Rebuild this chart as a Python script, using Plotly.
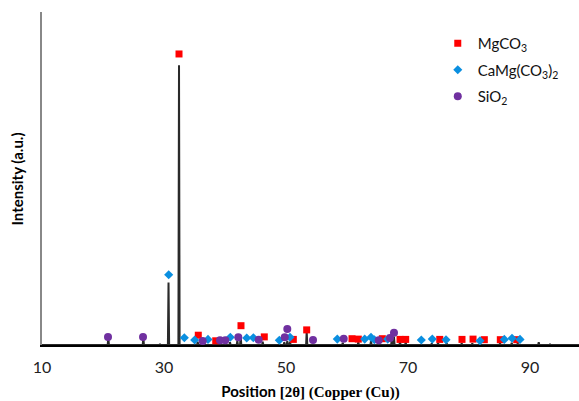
import plotly.graph_objects as go

# XRD pattern peaks (2θ position, relative intensity)
peak_pos = [20.87, 26.61, 29.34, 30.74, 32.46, 35.52, 38.36, 40.82, 42.02, 42.57,
            46.18, 49.72, 50.21, 50.66, 53.39, 59.30, 61.85, 63.93, 67.33, 67.70,
            68.69, 69.62, 73.89, 74.92, 76.34, 78.80, 80.54, 85.08, 87.00, 87.98,
            91.43, 93.28]
peak_int = [2.8, 2.8, 0.4, 22.3, 100, 1.2, 0.6, 1.0, 1.5, 3.5,
            1.2, 1.0, 1.5, 1.2, 4.8, 0.8, 1.0, 1.4, 2.0, 3.0,
            1.2, 1.0, 0.6, 0.8, 0.6, 0.6, 0.6, 0.7, 0.8, 0.6,
            1.0, 0.4]

# Phase identification markers
mgco3_x = [32.46, 35.62, 38.48, 42.62, 46.44, 51.20, 53.39, 60.82, 61.85, 65.79,
           68.69, 69.62, 75.20, 78.85, 80.66, 82.51, 85.13, 87.82]
mgco3_y = [104, 3.5, 1.5, 6.9, 2.9, 2.0, 5.4, 2.25, 2.1, 2.25,
           2.0, 2.0, 2.0, 2.0, 2.1, 1.9, 1.9, 1.9]

dol_x = [30.77, 33.33, 35.03, 37.21, 40.87, 43.56, 44.64, 48.90, 50.66, 58.41,
         62.90, 63.93, 64.48, 66.67, 72.18, 73.98, 76.23, 81.80, 85.79, 87.05, 88.36]
dol_y = [25.1, 2.6, 1.8, 2.0, 2.75, 2.5, 2.6, 1.7, 2.75, 2.1,
         2.1, 2.75, 1.9, 2.1, 1.8, 2.1, 1.9, 1.5, 2.0, 2.4, 2.0]

sio2_x = [20.82, 26.56, 36.34, 39.18, 40.05, 42.18, 45.52, 49.79, 50.21, 54.43,
          59.46, 65.20, 67.05, 67.70]
sio2_y = [2.9, 2.9, 1.4, 1.7, 1.7, 2.75, 1.9, 2.75, 5.7, 1.8,
          2.25, 1.7, 2.5, 4.4]

x_ticks = [10, 30, 50, 70, 90]

# Build the pattern line from the peak list
px, py = [10.0], [0.0]
for p, h in zip(peak_pos, peak_int):
    px += [p - 0.1, p, p + 0.1]
    py += [0, h, 0]
px.append(100.0)
py.append(0.0)

fig = go.Figure()
fig.add_trace(go.Scatter(x=px, y=py, mode="lines", line=dict(color="#2a2a2a", width=2),
                         showlegend=False, hoverinfo="skip"))
fig.add_trace(go.Scatter(x=mgco3_x, y=mgco3_y, mode="markers", name="MgCO<sub>3</sub>",
                         legendgroup="a",
                         marker=dict(symbol="square", size=7, color="#FF0000")))
fig.add_trace(go.Scatter(x=dol_x, y=dol_y, mode="markers", name="CaMg(CO<sub>3</sub>)<sub>2</sub>",
                         legendgroup="b",
                         marker=dict(symbol="diamond", size=7, color="#0A8FE0")))
fig.add_trace(go.Scatter(x=sio2_x, y=sio2_y, mode="markers", name="SiO<sub>2</sub>",
                         legendgroup="c",
                         marker=dict(symbol="circle", size=8, color="#7030A0")))

fig.update_layout(
    width=579, height=401,
    margin=dict(l=42, r=0, t=12, b=56),
    paper_bgcolor="white", plot_bgcolor="white",
    font=dict(family="Lato, Open Sans, sans-serif", color="#000"),
    showlegend=True,
    legend=dict(x=0.737, y=0.955, xanchor="left", yanchor="top",
                font=dict(size=15, color="#111"), tracegroupgap=4,
                itemsizing="trace", bgcolor="rgba(0,0,0,0)"),
    xaxis=dict(range=[10, 98.03], tickvals=x_ticks, ticks="", showgrid=False,
               zeroline=False, showline=True, linecolor="#000", linewidth=2,
               ticklabelstandoff=7,
               tickfont=dict(size=16, color="#222"),
               title=dict(text="<b>Position <span style='font-family:Liberation Serif'>[2θ] (Copper (Cu))</span></b>",
                          font=dict(size=15, color="#000"), standoff=12)),
    yaxis=dict(range=[0, 119], showticklabels=False, ticks="", showgrid=False,
               zeroline=False, showline=True, linecolor="#888", linewidth=1.5),
    annotations=[dict(text="<b>Intensity (a.u.)</b>", xref="paper", yref="paper",
                      x=-0.0466, y=0.5, xanchor="center", yanchor="middle",
                      textangle=-90, showarrow=False,
                      font=dict(size=15, color="#000"))],
)

fig.write_html("out.html")
